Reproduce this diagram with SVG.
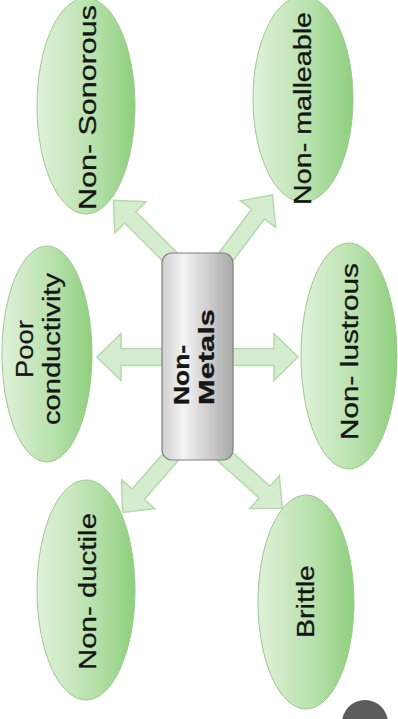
<svg xmlns="http://www.w3.org/2000/svg" width="398" height="719" viewBox="0 0 398 719">
<defs>
<linearGradient id="g" x1="0" y1="0" x2="1" y2="0">
<stop offset="0" stop-color="#e0f1da"/>
<stop offset="0.55" stop-color="#b9e2ae"/>
<stop offset="1" stop-color="#8fcf7e"/>
</linearGradient>
<linearGradient id="gb" x1="0" y1="0" x2="1" y2="0">
<stop offset="0" stop-color="#cfcfcf"/>
<stop offset="0.3" stop-color="#f4f4f4"/>
<stop offset="1" stop-color="#a9a9a9"/>
</linearGradient>
</defs>
<style>
.n{fill:url(#g);stroke:#9acb8b;stroke-width:1}
.a{fill:#d5ecce;stroke:#b4daa8;stroke-width:1.5}
.t{font-family:"Liberation Sans",Arial,sans-serif;font-size:23px;fill:#161616;stroke:#161616;stroke-width:0.3}
.b{font-weight:bold;font-size:22px}
</style>
<rect width="398" height="719" fill="#fff"/>
<g id="connectors">
<path class="a" transform="translate(170,357) rotate(180)" d="M0,-8.5H49V-23.5L73,0L49,23.5V8.5H0Z"/>
<path class="a" transform="translate(225,357)" d="M0,-8.5H49V-23.5L73,0L49,23.5V8.5H0Z"/>
<path class="a" transform="translate(177,264) rotate(225)" d="M0,-8H66V-22L90,0L66,22V8H0Z"/>
<path class="a" transform="translate(222,262) rotate(-53)" d="M0,-8H60V-22L84,0L60,22V8H0Z"/>
<path class="a" transform="translate(175,452) rotate(131)" d="M0,-8H56V-22L80,0L56,22V8H0Z"/>
<path class="a" transform="translate(220,452) rotate(42)" d="M0,-8H60V-22L84,0L60,22V8H0Z"/>
</g>
<g id="non-sonorous">
<ellipse class="n" cx="86" cy="106" rx="49" ry="108"/>
<text class="t" transform="translate(96,210) rotate(-90)" textLength="205" lengthAdjust="spacingAndGlyphs">Non- Sonorous</text>
</g>
<g id="non-malleable">
<ellipse class="n" cx="303" cy="99" rx="50" ry="103"/>
<text class="t" transform="translate(311,205) rotate(-90)" textLength="193" lengthAdjust="spacingAndGlyphs">Non- malleable</text>
</g>
<g id="poor-conductivity">
<ellipse class="n" cx="47" cy="354" rx="45" ry="108"/>
<text class="t" transform="translate(33,378) rotate(-90)" textLength="58" lengthAdjust="spacingAndGlyphs">Poor</text>
<text class="t" transform="translate(60,425) rotate(-90)" textLength="152" lengthAdjust="spacingAndGlyphs">conductivity</text>
</g>
<g id="non-metals">
<rect x="162" y="253" width="71" height="207" rx="10" fill="url(#gb)" stroke="#7f7f7f" stroke-width="1.2"/>
<text class="t b" transform="translate(189,405) rotate(-90)" textLength="60" lengthAdjust="spacingAndGlyphs">Non-</text>
<text class="t b" transform="translate(214,405) rotate(-90)" textLength="96" lengthAdjust="spacingAndGlyphs">Metals</text>
</g>
<g id="non-lustrous">
<ellipse class="n" cx="349" cy="356" rx="48" ry="113"/>
<text class="t" transform="translate(358,440) rotate(-90)" textLength="177" lengthAdjust="spacingAndGlyphs">Non- lustrous</text>
</g>
<g id="non-ductile">
<ellipse class="n" cx="86" cy="590" rx="49" ry="110"/>
<text class="t" transform="translate(96,670) rotate(-90)" textLength="157" lengthAdjust="spacingAndGlyphs">Non- ductile</text>
</g>
<g id="brittle">
<ellipse class="n" cx="306" cy="602" rx="48" ry="107"/>
<text class="t" transform="translate(314,638) rotate(-90)" textLength="73" lengthAdjust="spacingAndGlyphs">Brittle</text>
</g>
<circle cx="365" cy="723" r="23" fill="#5b5b5b"/>
</svg>
